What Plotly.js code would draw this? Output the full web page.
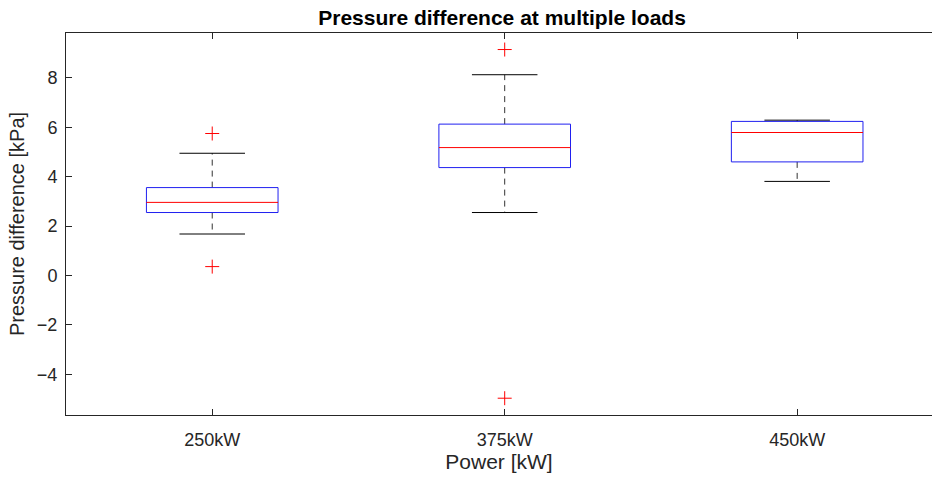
<!DOCTYPE html>
<html>
<head>
<meta charset="utf-8">
<script src="https://cdn.plot.ly/plotly-3.0.1.min.js"></script>
<style>html,body{margin:0;padding:0;background:#fff;}#chart{width:932px;height:479px;}</style>
</head>
<body>
<div id="chart"></div>
<script>
// Data
const categories = ['250kW', '375kW', '450kW'];
const q1 = [2.55, 4.37, 4.60];
const medians = [2.96, 5.18, 5.79];
const q3 = [3.56, 6.13, 6.24];
const lowerWhisker = [1.68, 2.55, 3.81];
const upperWhisker = [4.95, 8.13, 6.29];
const outlierCat = [0, 0, 1, 1];   // index into categories
const outlierVal = [5.75, 0.36, 9.15, -4.97];

const boxHalf = 0.225;
const capHalf = 0.112;
const traces = [];
categories.forEach((c, i) => {
  const x = i + 1;
  traces.push({x: [x, x, null, x, x], y: [q3[i], upperWhisker[i], null, q1[i], lowerWhisker[i]],
    mode: 'lines', line: {color: '#333333', width: 1, dash: '6px,5px'}, hoverinfo: 'skip', showlegend: false});
  traces.push({x: [x - capHalf, x + capHalf, null, x - capHalf, x + capHalf],
    y: [upperWhisker[i], upperWhisker[i], null, lowerWhisker[i], lowerWhisker[i]],
    mode: 'lines', line: {color: '#000000', width: 1}, hoverinfo: 'skip', showlegend: false});
  traces.push({x: [x - boxHalf, x + boxHalf, x + boxHalf, x - boxHalf, x - boxHalf],
    y: [q1[i], q1[i], q3[i], q3[i], q1[i]],
    mode: 'lines', line: {color: '#2020f0', width: 1}, hoverinfo: 'skip', showlegend: false});
  traces.push({x: [x - boxHalf, x + boxHalf], y: [medians[i], medians[i]],
    mode: 'lines', line: {color: '#ff0000', width: 1}, hoverinfo: 'skip', showlegend: false});
});
traces.push({x: outlierCat.map(k => k + 1), y: outlierVal, mode: 'markers',
  marker: {symbol: 'cross-thin-open', size: 10, color: '#ff0000', line: {color: '#ff0000', width: 1}},
  showlegend: false});

const layout = {
  width: 932, height: 479,
  margin: {l: 66, r: 0, t: 33, b: 64},
  paper_bgcolor: '#ffffff', plot_bgcolor: '#ffffff',
  font: {family: 'Liberation Sans, Arial, sans-serif', color: '#262626'},
  title: {text: '<b>Pressure difference at multiple loads</b>', x: 0.5035, xref: 'paper', xanchor: 'center',
    y: 0.963, yanchor: 'middle',
    font: {size: 21, color: '#000000', family: 'Liberation Sans, Arial, sans-serif'}},
  xaxis: {range: [0.5, 3.461], tickvals: [1, 2, 3], ticktext: categories,
    ticks: 'inside', ticklen: 6, tickcolor: '#262626', showgrid: false, zeroline: false,
    showline: true, linecolor: '#262626', linewidth: 1, mirror: 'ticks',
    tickfont: {size: 18, color: '#262626'}, ticklabelstandoff: 8,
    title: {text: 'Power [kW]', font: {size: 21, color: '#262626'}, standoff: 3}},
  yaxis: {range: [-5.65, 9.82], tickvals: [-4, -2, 0, 2, 4, 6, 8],
    ticks: 'inside', ticklen: 6, tickcolor: '#262626', showgrid: false, zeroline: false,
    showline: true, linecolor: '#262626', linewidth: 1,
    tickfont: {size: 18, color: '#262626'}, ticklabelstandoff: 4,
    title: {text: 'Pressure difference [kPa]', font: {size: 20, color: '#262626'}, standoff: 6}}
};
Plotly.newPlot('chart', traces, layout, {staticPlot: true, displayModeBar: false});
</script>
</body>
</html>
